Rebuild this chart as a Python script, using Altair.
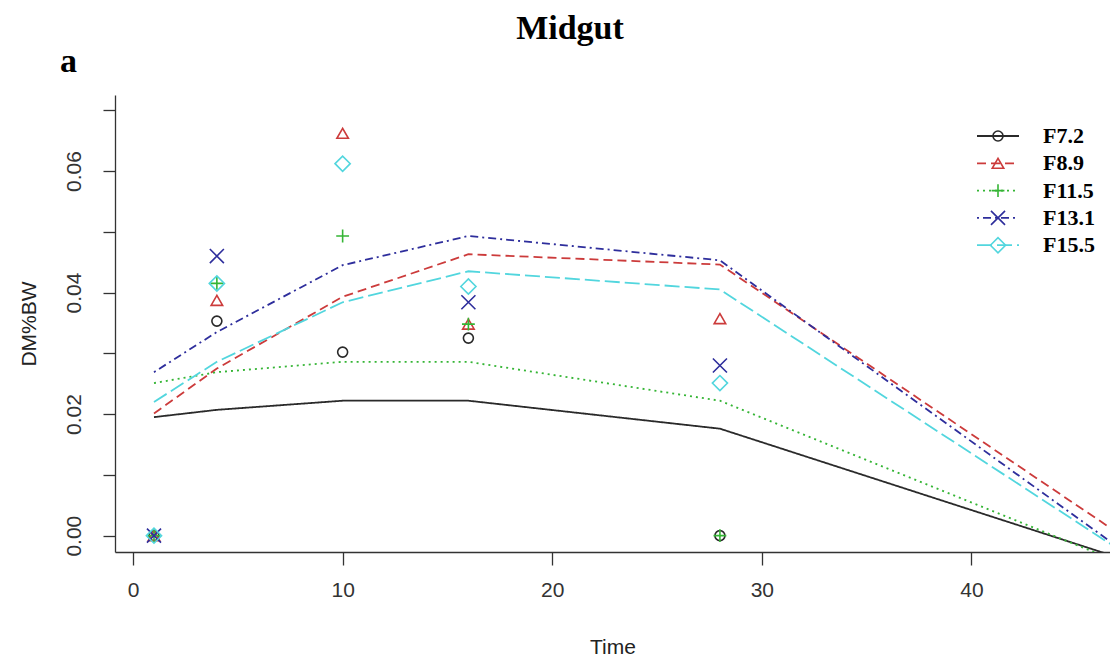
import altair as alt
import pandas as pd

# ---- data ----
series = ["F7.2", "F8.9", "F11.5", "F13.1", "F15.5"]

obs_time = [1, 4, 10, 16, 28]
obs_f72 = [0.0, 0.0353, 0.0302, 0.0325, 0.0]
obs_f89 = [0.0, 0.0387, 0.0662, 0.0348, 0.0357]
obs_f115 = [0.0, 0.0415, 0.0493, 0.0348, 0.0]
obs_f131 = [0.0, 0.0460, None, 0.0384, 0.0280]
obs_f155 = [0.0, 0.0415, 0.0612, 0.0410, 0.0251]

fit_time = [1, 4, 10, 16, 28, 47]
fit_f72 = [0.0195, 0.0207, 0.0222, 0.0222, 0.0176, -0.0036]
fit_f89 = [0.0201, 0.0275, 0.0393, 0.0463, 0.0446, 0.0004]
fit_f115 = [0.0251, 0.0269, 0.0286, 0.0286, 0.0222, -0.0043]
fit_f131 = [0.0269, 0.0335, 0.0445, 0.0493, 0.0453, -0.0019]
fit_f155 = [0.0220, 0.0286, 0.0384, 0.0435, 0.0405, -0.0022]

y_ticks = [0.0, 0.01, 0.02, 0.03, 0.04, 0.05, 0.06, 0.07]
x_ticks = [0, 10, 20, 30, 40]

title_text = "Midgut"
panel_text = "a"

# ---- styles ----
colors = ["#2a2a2a", "#cc3b3b", "#35b535", "#2e2e9c", "#52d6de"]
dashes = [[1, 0], [9, 5], [2, 4], [2, 4, 8, 4], [15, 5]]
shapes = ["circle", "triangle-up", "M-1,0L1,0M0,-1L0,1",
          "M-1,-1L1,1M1,-1L-1,1", "diamond"]
sizes = [100, 230, 190, 135, 240]

obs_vals = [obs_f72, obs_f89, obs_f115, obs_f131, obs_f155]
fit_vals = [fit_f72, fit_f89, fit_f115, fit_f131, fit_f155]

obs_rows, fit_rows = [], []
for s, vals in zip(series, obs_vals):
    for t, v in zip(obs_time, vals):
        if v is not None:
            obs_rows.append({"series": s, "Time": t, "DM": v})
for s, vals in zip(series, fit_vals):
    for t, v in zip(fit_time, vals):
        fit_rows.append({"series": s, "Time": t, "DM": v})
obs_df = pd.DataFrame(obs_rows)
fit_df = pd.DataFrame(fit_rows)
leg_df = pd.DataFrame({"series": series, "row": list(range(len(series)))})

W, H = 995, 457
font_sans = "Liberation Sans"
font_serif = "Liberation Serif"

x_scale = alt.Scale(domain=[-0.86, 46.61], nice=False, zero=False)
y_scale = alt.Scale(domain=[-0.00269, 0.0725], nice=False, zero=False)
color_scale = alt.Scale(domain=series, range=colors)
dash_scale = alt.Scale(domain=series, range=dashes)
shape_scale = alt.Scale(domain=series, range=shapes)
size_scale = alt.Scale(domain=series, range=sizes)

x_axis = alt.Axis(values=x_ticks, title="Time", grid=False, tickSize=13,
                  labelPadding=14, labelFontSize=21, labelFont=font_sans,
                  labelColor="#333333", titleFont=font_sans, titleFontSize=21,
                  titleFontWeight="normal", titleColor="#222222", titlePadding=36,
                  domainColor="#333333", tickColor="#333333", domainWidth=1.3,
                  tickWidth=1.3, labelFlush=False)
y_axis = alt.Axis(values=y_ticks, title="DM%BW", grid=False, tickSize=12,
                  labelExpr="round(datum.value*100) % 2 == 0 ? format(datum.value, '.2f') : ''",
                  labelAngle=270, labelAlign="center", labelBaseline="bottom",
                  labelPadding=19, labelFontSize=21, labelFont=font_sans,
                  labelColor="#333333", titleFont=font_sans, titleFontSize=21,
                  titleFontWeight="normal", titleColor="#222222", titlePadding=24,
                  domainColor="#333333", tickColor="#333333", domainWidth=1.3,
                  tickWidth=1.3, labelFlush=False)

lines = alt.Chart(fit_df).mark_line(strokeWidth=1.8, clip=True).encode(
    x=alt.X("Time:Q", scale=x_scale, axis=x_axis),
    y=alt.Y("DM:Q", scale=y_scale, axis=y_axis),
    color=alt.Color("series:N", scale=color_scale, legend=None),
    strokeDash=alt.StrokeDash("series:N", scale=dash_scale, legend=None),
    detail="series:N",
)

points = alt.Chart(obs_df).mark_point(filled=False, strokeWidth=1.6, opacity=1).encode(
    x=alt.X("Time:Q", scale=x_scale),
    y=alt.Y("DM:Q", scale=y_scale),
    color=alt.Color("series:N", scale=color_scale, legend=None),
    shape=alt.Shape("series:N", scale=shape_scale, legend=None),
    size=alt.Size("series:N", scale=size_scale, legend=None),
)

# ---- hand-built legend (top right) ----
leg_base = alt.Chart(leg_df).transform_calculate(py="41 + 27.3*datum.row")
leg_lines = leg_base.mark_rule(strokeWidth=1.8).encode(
    x=alt.value(862), x2=alt.value(904),
    y=alt.Y("py:Q", scale=None, axis=None),
    color=alt.Color("series:N", scale=color_scale, legend=None),
    strokeDash=alt.StrokeDash("series:N", scale=dash_scale, legend=None),
)
leg_pts = leg_base.mark_point(filled=False, strokeWidth=1.6, opacity=1).encode(
    x=alt.value(883),
    y=alt.Y("py:Q", scale=None, axis=None),
    color=alt.Color("series:N", scale=color_scale, legend=None),
    shape=alt.Shape("series:N", scale=shape_scale, legend=None),
    size=alt.Size("series:N", scale=size_scale, legend=None),
)
leg_text = leg_base.mark_text(align="left", baseline="middle", font=font_serif,
                              fontSize=22, fontWeight="bold", color="black").encode(
    x=alt.value(928),
    y=alt.Y("py:Q", scale=None, axis=None),
    text="series:N",
)

title_mark = alt.Chart(pd.DataFrame({"t": [title_text]})).mark_text(
    align="center", baseline="alphabetic", font=font_serif, fontSize=34,
    fontWeight="bold", color="black").encode(
    x=alt.value(455), y=alt.value(-56), text="t:N")
panel_mark = alt.Chart(pd.DataFrame({"t": [panel_text]})).mark_text(
    align="left", baseline="alphabetic", font=font_serif, fontSize=34,
    fontWeight="bold", color="black").encode(
    x=alt.value(-55), y=alt.value(-23), text="t:N")

chart = alt.layer(lines, points, leg_lines, leg_pts, leg_text, title_mark, panel_mark).properties(
    width=W, height=H,
    autosize=alt.AutoSizeParams(type="none"),
    padding={"left": 107, "top": 87, "right": 0, "bottom": 107},
    background="white",
).configure_view(stroke=None)

chart.save("out.html", embed_options={"renderer": "svg", "actions": False})
